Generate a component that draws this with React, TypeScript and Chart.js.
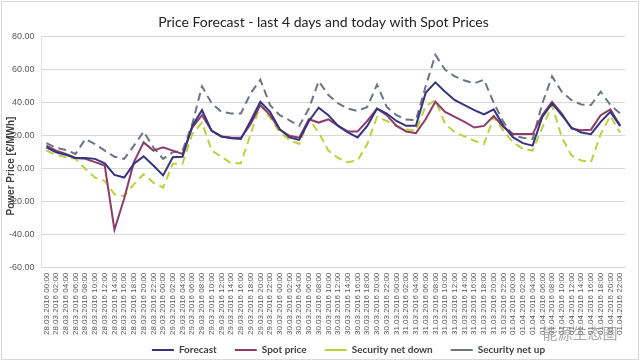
import React, { useEffect, useRef } from 'react';
import { Chart, registerables } from 'chart.js';

Chart.register(...registerables);

const days = ['28.03.2016', '29.03.2016', '30.03.2016', '31.03.2016', '01.04.2016'];
const hours = ['00:00', '02:00', '04:00', '06:00', '08:00', '10:00', '12:00', '14:00', '16:00', '18:00', '20:00', '22:00'];
const categories = days.flatMap((d) => hours.map((h) => `${d} ${h}`));

const forecast = [
  13, 10, 8.5, 6.5, 6.5, 6, 3.3, -3.7, -5.3, 3, 7.5, 2,
  -4, 7, 7.3, 26, 35.5, 23, 19.6, 18.5, 18, 29, 40.6, 34.5,
  24, 19, 17.5, 29, 37, 32.5, 26, 22, 19, 26, 36.5, 33.5,
  29, 26, 26, 46, 52.4, 46.7, 41.6, 38.6, 35.5, 33, 36, 26,
  19, 15.5, 14, 31.4, 39.6, 32.5, 25, 22, 21, 28.4, 34.5, 26,
];
const spotPrice = [
  14, 11, 9, 6.5, 6, 4, 2, -37, -18, 4, 16, 11,
  13, 11, 9, 25, 32.5, 23, 19.6, 19, 18.8, 27, 38.6, 32.5,
  23.7, 20, 18.8, 30, 28, 30, 26, 22.6, 22.6, 29, 36.5, 32.5,
  26, 22.6, 21.6, 30, 40.6, 34.5, 31.4, 28.4, 25, 26, 32, 25.3,
  21, 21, 21, 32.5, 40.6, 33.5, 24.3, 23.3, 23.7, 32.5, 36, 26,
];
const securityNetDown = [
  11, 8.5, 7, 6, 0, -5.3, -7.3, -15.5, -16.5, -9.4, -3.3, -8.4,
  -11.4, 3, 3, 21, 28, 11, 7.3, 3.3, 3.3, 21, 38.6, 31,
  22, 17.5, 15, 30, 22, 11, 6.5, 4, 5, 15, 31.4, 29,
  26, 24, 23, 38, 41.6, 27.3, 22, 19.6, 17, 15, 31.4, 23,
  16, 12, 11, 25, 38.6, 19, 8, 5, 4, 21, 32, 22,
];
const securityNetUp = [
  15.5, 12.7, 11.4, 9, 18, 15, 11, 7.3, 6, 14, 22.5, 13,
  6, 10, 11, 27, 50, 39.6, 34.5, 33.5, 33.5, 45.7, 54, 38.6,
  32.5, 29.4, 26, 36.5, 53, 44.7, 39.6, 36.5, 35, 37.5, 51, 37.5,
  32.5, 29.8, 29.4, 50, 69, 60, 56, 53.5, 51.8, 54, 40, 28.4,
  20, 18.8, 18, 39.6, 56, 46.7, 41.6, 39, 38.6, 46.7, 38.6, 33.5,
];

const seriesNames = ['Forecast', 'Spot price', 'Security net down', 'Security net up'];
const chartTitle = 'Price Forecast - last 4 days and today with Spot Prices';
const yAxisTitle = 'Power Price [€/MWh]';
const watermark = '能源生态圈';

const decorPlugin = {
  id: 'decor',
  beforeDraw(chart: any) {
    const { ctx, width, height } = chart;
    ctx.save();
    ctx.fillStyle = '#ffffff';
    ctx.fillRect(0, 0, width, height);
    ctx.strokeStyle = '#d9d9d9';
    ctx.lineWidth = 1;
    ctx.strokeRect(1.5, 1.5, width - 3, height - 3);
    ctx.restore();
  },
  afterLayout(chart: any) {
    const lg = chart.legend;
    if (lg) {
      lg.left += 35;
      lg.right += 35;
      lg.top -= 13;
      lg.bottom -= 13;
    }
    const tt = chart.titleBlock;
    if (tt) {
      tt.left += 10;
      tt.right += 10;
    }
  },
  afterDraw(chart: any) {
    const { ctx } = chart;
    ctx.save();
    ctx.translate(11, 166);
    ctx.rotate(-Math.PI / 2);
    ctx.font = 'bold 10px "Liberation Sans", Arial, sans-serif';
    ctx.fillStyle = '#404040';
    ctx.textAlign = 'center';
    ctx.textBaseline = 'middle';
    ctx.fillText(yAxisTitle, 0, 0);
    ctx.restore();
    ctx.save();
    ctx.font = '15px "Noto Sans CJK SC", sans-serif';
    ctx.fillStyle = 'rgba(140,140,140,0.75)';
    ctx.textAlign = 'center';
    ctx.textBaseline = 'middle';
    ctx.fillText(watermark, 580, 333);
    ctx.restore();
  },
};

export default function App() {
  const ref = useRef<HTMLCanvasElement | null>(null);
  useEffect(() => {
    if (!ref.current) return;
    const line = (label: string, data: number[], color: string, dash: number[]) => ({
      label,
      data,
      borderColor: color,
      backgroundColor: color,
      borderWidth: 2,
      borderDash: dash,
      pointRadius: 0,
      pointHoverRadius: 0,
      tension: 0,
      fill: false,
    });
    const chart = new Chart(ref.current, {
      type: 'line',
      data: {
        labels: categories,
        datasets: [
          line(seriesNames[0], forecast, '#35357f', []),
          line(seriesNames[1], spotPrice, '#8e3b6b', []),
          line(seriesNames[2], securityNetDown, '#bcd23c', [8, 5]),
          line(seriesNames[3], securityNetUp, '#6e7486', [8, 5]),
        ],
      },
      plugins: [decorPlugin],
      options: {
        animation: false,
        responsive: true,
        maintainAspectRatio: false,
        layout: { padding: { left: 2, right: 15, top: 0, bottom: -17 } },
        plugins: {
          title: {
            display: true,
            text: chartTitle,
            color: '#222222',
            font: { family: 'Lato', size: 14, weight: 'normal' },
            padding: { top: 14, bottom: 6 },
          },
          legend: {
            position: 'bottom',
            labels: {
              usePointStyle: true,
              pointStyle: 'line',
              pointStyleWidth: 22,
              padding: 18,
              color: '#404040',
              font: { family: 'Lato', size: 10, weight: 'bold' },
            },
          },
          tooltip: { enabled: false },
        },
        scales: {
          x: {
            offset: true,
            grid: { display: false, drawTicks: false },
            border: { display: true, color: '#d9d9d9' },
            ticks: {
              autoSkip: false,
              maxRotation: 90,
              minRotation: 90,
              padding: 5,
              color: '#595959',
              font: { family: '"Liberation Sans", Arial', size: 8 },
            },
          },
          y: {
            min: -60,
            max: 80,
            grid: { color: '#d9d9d9', drawTicks: false },
            border: { display: true, color: '#e3e3e3' },
            ticks: {
              stepSize: 20,
              padding: 7,
              color: '#595959',
              font: { family: '"Liberation Sans", Arial', size: 9 },
              callback: (v: any) => Number(v).toFixed(2),
            },
          },
        },
      },
    });
    return () => chart.destroy();
  }, []);
  return (
    <div style={{ position: 'fixed', left: 0, top: 0, width: 640, height: 361 }}>
      <canvas ref={ref} />
    </div>
  );
}
